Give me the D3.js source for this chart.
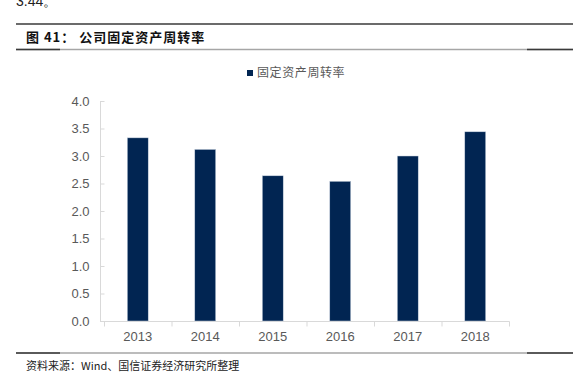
<!DOCTYPE html>
<html>
<head>
<meta charset="utf-8">
<script src="https://cdn.jsdelivr.net/npm/d3@7"></script>
<style>
  body { margin: 0; background: #fff; }
  svg { display: block; }
</style>
</head>
<body>
<div class="main"></div>
<script>
const years = ["2013", "2014", "2015", "2016", "2017", "2018"];
const turnover = [3.33, 3.12, 2.64, 2.54, 3.0, 3.44];
const yTicks = [0, 0.5, 1, 1.5, 2, 2.5, 3, 3.5, 4];
const seriesName = "固定资产周转率";
const title = "图 41： 公司固定资产周转率";
const source = "资料来源：Wind、国信证券经济研究所整理";
const lead = "3.44。";

const w = 579;
const h = 385;
const cjk = "'Noto Sans CJK SC', sans-serif";
const latin = "'Liberation Sans', Arial, sans-serif";

const svg = d3.select(".main").append("svg").attr("width", w).attr("height", h);

// tail of the paragraph above the figure
svg.append("text").attr("x", 16).attr("y", 6)
    .attr("font-family", latin).attr("font-size", 14).attr("fill", "#222").text(lead);

// header / footer rules
function rule(y, dark) {
    svg.append("line").attr("x1", 16).attr("x2", 573).attr("y1", y).attr("y2", y)
        .attr("stroke", dark ? "#3a3a3a" : "#a6a6a6").attr("stroke-width", 1.5);
    if (!dark) {
        svg.append("line").attr("x1", 16).attr("x2", 60).attr("y1", y).attr("y2", y)
            .attr("stroke", "#3a3a3a").attr("stroke-width", 1.5);
        svg.append("line").attr("x1", 527).attr("x2", 573).attr("y1", y).attr("y2", y)
            .attr("stroke", "#3a3a3a").attr("stroke-width", 1.5);
    }
}
rule(24, true);
rule(49.5, false);
rule(353, false);

svg.append("text").attr("x", 26).attr("y", 42)
    .attr("font-family", cjk).attr("font-size", 13).attr("font-weight", "bold")
    .attr("letter-spacing", 1).attr("fill", "#111").text(title);

svg.append("text").attr("x", 26).attr("y", 370)
    .attr("font-family", cjk).attr("font-size", 11)
    .attr("fill", "#222").text(source);

// scales
const xScale = d3.scaleBand().domain(years).range([104, 509]).paddingInner(0.69).paddingOuter(0.345);
const yScale = d3.scaleLinear().domain([0, 4]).range([321, 101]);

const axisColor = "#d9d9d9";
const labelColor = "#595959";

const yAxis = d3.axisLeft(yScale).tickValues(yTicks).tickFormat(d3.format(".1f")).tickSize(4).tickPadding(11);
const gy = svg.append("g").attr("transform", "translate(104.5,0)").call(yAxis);
gy.select(".domain").attr("stroke", axisColor).attr("d", "M-4,101V321.5");
gy.selectAll(".tick line").attr("stroke", axisColor);
gy.selectAll(".tick text").attr("fill", labelColor).attr("font-family", latin).attr("font-size", 13);

const xBoundary = d3.scaleBand().domain(years).range([104, 509]);
const gx = svg.append("g").attr("transform", "translate(0,321.5)");
gx.append("line").attr("x1", 100).attr("x2", 509.5).attr("stroke", axisColor);
gx.selectAll(".tk").data(years.concat(["end"])).enter().append("line")
    .attr("x1", (d, i) => (i < years.length ? xBoundary(d) : 509) + 0.5)
    .attr("x2", (d, i) => (i < years.length ? xBoundary(d) : 509) + 0.5)
    .attr("y1", 0).attr("y2", 5).attr("stroke", axisColor);
gx.selectAll(".lbl").data(years).enter().append("text")
    .attr("x", (d) => xScale(d) + xScale.bandwidth() / 2)
    .attr("y", 19).attr("text-anchor", "middle")
    .attr("fill", labelColor).attr("font-family", latin).attr("font-size", 13)
    .text((d) => d);

// bars
svg.selectAll("rect.bar").data(turnover).enter().append("rect")
    .attr("class", "bar")
    .attr("x", (d, i) => xScale(years[i]))
    .attr("width", xScale.bandwidth())
    .attr("y", (d) => yScale(d))
    .attr("height", (d) => yScale(0) - yScale(d))
    .attr("fill", "#012552")
    .attr("stroke", "#c9d3e0").attr("stroke-width", 0.5);

// legend
const legend = svg.append("g").attr("transform", "translate(247,70)");
legend.append("rect").attr("width", 6).attr("height", 6).attr("fill", "#012552");
legend.append("text").attr("x", 10).attr("y", 6.5)
    .attr("font-family", cjk).attr("font-size", 12).attr("fill", labelColor)
    .attr("letter-spacing", 0.6).text(seriesName);
</script>
</body>
</html>
